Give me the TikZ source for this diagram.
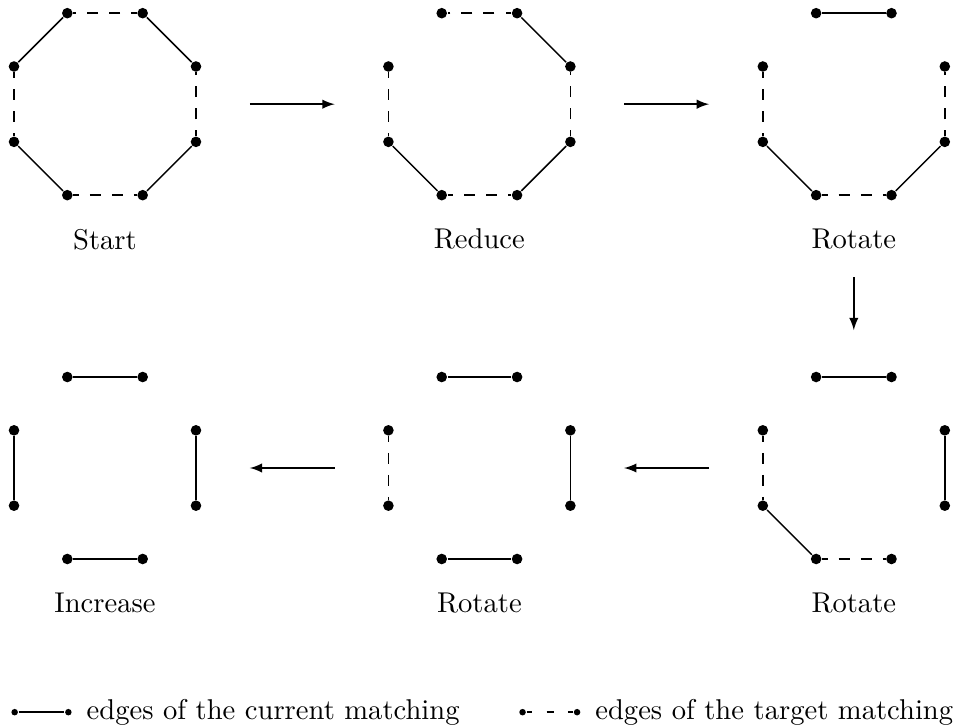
\documentclass[tikz,border=0pt]{standalone}
\usepackage{tikz}
\usetikzlibrary{positioning}

\tikzset{
	vertex/.style={circle, fill=black, inner sep=0pt, minimum size=0.13cm},
	smallvertex/.style={circle, fill=black, inner sep=0pt, minimum size=0.08cm},
	target/.style={dash pattern=on 3.85pt off 3.85pt, dash phase=1.9pt},
	legendtarget/.style={dash pattern=on 2.5pt off 5pt, dash phase=0.5pt},
	panel/.style={inner sep=0pt, minimum width=3.54cm, minimum height=3.37cm},
}

\begin{document}
\begin{tikzpicture}[line width=0.5pt]
				\useasboundingbox (0,0) rectangle (11.77,-8.93);
				
				% the six octagons
				\foreach \p/\cx/\cy in {a/1.29/-1.28, b/5.89/-1.28, c/10.49/-1.28, d/10.49/-5.75, e/5.89/-5.75, f/1.29/-5.75} {
					\node[panel] (p\p) at (\cx,\cy) {};
					\foreach \k in {0,...,7} {
						\node[vertex] (\p\k) at ([shift={(\cx,\cy)}] {22.5+45*\k}:1.21) {};
					}
				}
				
				% Start
				\draw (a0) -- (a1);
				\draw[target] (a1) -- (a2);
				\draw (a2) -- (a3);
				\draw[target] (a3) -- (a4);
				\draw (a4) -- (a5);
				\draw[target] (a5) -- (a6);
				\draw (a6) -- (a7);
				\draw[target] (a7) -- (a0);
				
				% Reduce
				\draw (b0) -- (b1);
				\draw[target] (b1) -- (b2);
				\draw[target] (b3) -- (b4);
				\draw (b4) -- (b5);
				\draw[target] (b5) -- (b6);
				\draw (b6) -- (b7);
				\draw[target] (b7) -- (b0);
				
				% Rotate
				\draw (c1) -- (c2);
				\draw[target] (c3) -- (c4);
				\draw (c4) -- (c5);
				\draw[target] (c5) -- (c6);
				\draw (c6) -- (c7);
				\draw[target] (c7) -- (c0);
				
				% Rotate
				\draw (d1) -- (d2);
				\draw[target] (d3) -- (d4);
				\draw (d4) -- (d5);
				\draw[target] (d5) -- (d6);
				\draw (d7) -- (d0);
				
				% Rotate
				\draw (e1) -- (e2);
				\draw[target] (e3) -- (e4);
				\draw (e5) -- (e6);
				\draw (e7) -- (e0);
				
				% Increase
				\draw (f1) -- (f2);
				\draw (f3) -- (f4);
				\draw (f5) -- (f6);
				\draw (f7) -- (f0);
				
				\node (la) at (1.29,-2.94) {Start};
				\node (lb) at (5.89,-2.94) {Reduce};
				\node (lc) at (10.49,-2.94) {Rotate};
				\node (ld) at (10.49,-7.41) {Rotate};
				\node (le) at (5.89,-7.41) {Rotate};
				\node (lf) at (1.29,-7.41) {Increase};
				
				\draw[-latex] (pa) -- (pb);
				\draw[-latex] (pb) -- (pc);
				\draw[-latex, shorten <=0.215cm] (lc) -- (pd);
				\draw[-latex] (pd) -- (pe);
				\draw[-latex] (pe) -- (pf);
				
				% legend
				\node[smallvertex] (m1) at (0.18,-8.75) {};
				\node[smallvertex] (m2) at (0.84,-8.75) {};
				\draw (m1) -- (m2);
				\node[right=0.05cm of m2] (t1) {edges of the current matching};
				\node[smallvertex] (m3) at (6.42,-8.75) {};
				\node[smallvertex] (m4) at (7.09,-8.75) {};
				\draw[legendtarget] (m3) -- (m4);
				\node[right=0.05cm of m4] (t2) {edges of the target matching};
			\end{tikzpicture}
\end{document}
